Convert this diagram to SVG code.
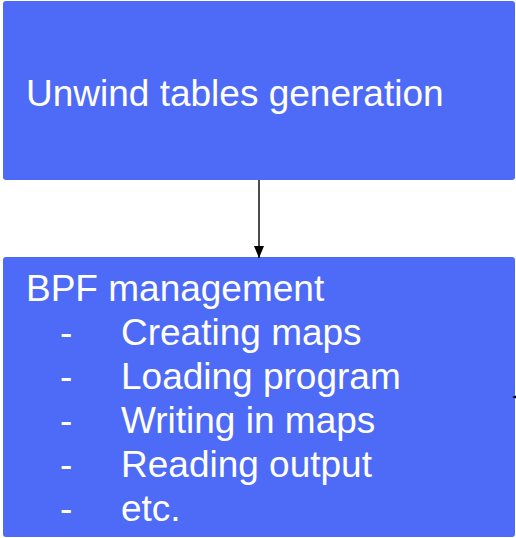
<svg xmlns="http://www.w3.org/2000/svg" width="516" height="538" viewBox="0 0 516 538">
<style>
.box{fill:#4E6BF7;}
.t{font-family:"Liberation Sans",Arial,sans-serif;font-size:37px;fill:#ffffff;}
.c{stroke:#000;stroke-width:1.4;fill:none;}
</style>
<defs>
<marker id="ah" markerWidth="12" markerHeight="10" refX="12" refY="5" orient="auto" markerUnits="userSpaceOnUse" viewBox="0 0 12 10">
<path d="M0,0 L12,5 L0,10 Z" fill="#000"/>
</marker>
</defs>
<rect width="516" height="538" fill="#ffffff"/>
<g id="node-unwind">
<rect class="box" x="3" y="1" width="512" height="179" rx="3"/>
<text class="t" x="26" y="106">Unwind tables generation</text>
</g>
<g id="node-bpf">
<rect class="box" x="3" y="257" width="512" height="280" rx="3"/>
<text class="t" x="26" y="300.5">BPF management</text>
<text class="t" x="60" y="344.5">-</text><text class="t" x="121" y="344.5">Creating maps</text>
<text class="t" x="60" y="388.5">-</text><text class="t" x="121" y="388.5">Loading program</text>
<text class="t" x="60" y="432.5">-</text><text class="t" x="121" y="432.5">Writing in maps</text>
<text class="t" x="60" y="476.5">-</text><text class="t" x="121" y="476.5">Reading output</text>
<text class="t" x="60" y="520.5">-</text><text class="t" x="121" y="520.5">etc.</text>
</g>
<g id="connectors">
<line class="c" x1="259" y1="180" x2="259" y2="258" marker-end="url(#ah)"/>
<path d="M516,395.5 L512,397 L516,398.5 Z" fill="#000"/>
</g>
</svg>
